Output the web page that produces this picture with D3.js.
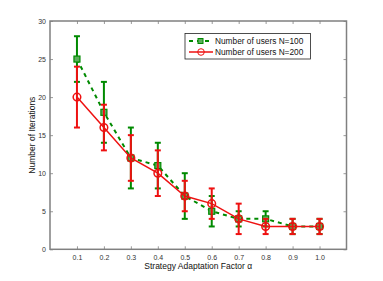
<!DOCTYPE html>
<html>
<head>
<meta charset="utf-8">
<script src="https://cdn.jsdelivr.net/npm/d3@7"></script>
<style>
  body { margin: 0; background: #fff; }
  text { font-family: "Liberation Sans", Arial, sans-serif; }
</style>
</head>
<body>
<div id="chart"></div>
<script>
// data
const alphas = [0.1, 0.2, 0.3, 0.4, 0.5, 0.6, 0.7, 0.8, 0.9, 1.0];
const n100 = [25, 18, 12, 11, 7, 5, 4, 4, 3, 3];
const n100Lo = [22, 14, 8, 8, 4, 3, 3, 3, 2, 2];
const n100Hi = [28, 22, 16, 14, 10, 7, 5, 5, 4, 4];
const n200 = [20, 16, 12, 10, 7, 6, 4, 3, 3, 3];
const n200Lo = [16, 13, 9, 7, 5, 4, 2, 2, 2, 2];
const n200Hi = [24, 19, 15, 13, 9, 8, 6, 4, 4, 4];
const yTicks = [0, 5, 10, 15, 20, 25, 30];
const seriesNames = ['Number of users N=100', 'Number of users N=200'];

const width = 383, height = 281;
const m = {left: 50, right: 36.5, top: 21, bottom: 31.7};

const svg = d3.select('#chart').append('svg').attr('width', width).attr('height', height);

const x = d3.scaleLinear().domain([0, 1.1]).range([m.left, width - m.right]);
const y = d3.scaleLinear().domain([0, 30]).range([height - m.bottom, m.top]);

const gray = '#808080';

// axes box
svg.append('rect')
    .attr('x', x(0)).attr('y', y(30))
    .attr('width', x(1.1) - x(0)).attr('height', y(0) - y(30))
    .attr('fill', 'none').attr('stroke', gray).attr('stroke-width', 1.5);

const xAxis = svg.append('g').attr('transform', `translate(0,${y(0)})`)
    .call(d3.axisBottom(x).tickValues(alphas).tickSize(-3).tickPadding(6).tickFormat(d3.format('.1f')));
const xAxisTop = svg.append('g').attr('transform', `translate(0,${y(30)})`)
    .call(d3.axisTop(x).tickValues(alphas).tickSize(-3).tickFormat(''));
const yAxis = svg.append('g').attr('transform', `translate(${x(0)},0)`)
    .call(d3.axisLeft(y).tickValues(yTicks).tickSize(-3).tickPadding(4));
const yAxisRight = svg.append('g').attr('transform', `translate(${x(1.1)},0)`)
    .call(d3.axisRight(y).tickValues(yTicks).tickSize(-3).tickFormat(''));

[xAxis, xAxisTop, yAxis, yAxisRight].forEach(a => {
    a.select('.domain').remove();
    a.selectAll('line').attr('stroke', gray).attr('stroke-width', 0.8);
    a.selectAll('text').attr('font-size', 7).attr('fill', '#333')
        .style('font-family', '"Liberation Sans", Arial, sans-serif');
});

// axis labels
svg.append('text')
    .attr('x', (x(0) + x(1.1)) / 2).attr('y', 269)
    .attr('text-anchor', 'middle').attr('font-size', 8.5).attr('fill', '#111')
    .text('Strategy Adaptation Factor α');
svg.append('text')
    .attr('transform', `translate(35,${(y(0) + y(30)) / 2}) rotate(-90)`)
    .attr('text-anchor', 'middle').attr('font-size', 8.5).attr('fill', '#111')
    .text('Number of Iterations');

const green = '#008a00', red = '#ee1111';

function errorBars(vals, lo, hi, color) {
    const g = svg.append('g').attr('stroke', color).attr('stroke-width', 2);
    alphas.forEach((a, i) => {
        g.append('line').attr('x1', x(a)).attr('x2', x(a)).attr('y1', y(lo[i])).attr('y2', y(hi[i]));
        g.append('line').attr('x1', x(a) - 3).attr('x2', x(a) + 3).attr('y1', y(lo[i])).attr('y2', y(lo[i]));
        g.append('line').attr('x1', x(a) - 3).attr('x2', x(a) + 3).attr('y1', y(hi[i])).attr('y2', y(hi[i]));
    });
}

const line = d3.line().x((d, i) => x(alphas[i])).y(d => y(d));

// N=100
errorBars(n100, n100Lo, n100Hi, green);
svg.append('path').datum(n100).attr('d', line)
    .attr('fill', 'none').attr('stroke', green).attr('stroke-width', 2).attr('stroke-dasharray', '4,4');
svg.selectAll('.sq').data(n100).enter().append('rect').attr('class', 'sq')
    .attr('x', (d, i) => x(alphas[i]) - 3).attr('y', d => y(d) - 3)
    .attr('width', 6).attr('height', 6)
    .attr('fill', '#5cae5c').attr('stroke', green).attr('stroke-width', 1.2);

// N=200
errorBars(n200, n200Lo, n200Hi, red);
svg.append('path').datum(n200).attr('d', line)
    .attr('fill', 'none').attr('stroke', red).attr('stroke-width', 1.5);
svg.selectAll('.ci').data(n200).enter().append('circle').attr('class', 'ci')
    .attr('cx', (d, i) => x(alphas[i])).attr('cy', d => y(d)).attr('r', 3.8)
    .attr('fill', 'none').attr('stroke', red).attr('stroke-width', 1.5);

// legend
const lg = svg.append('g').attr('transform', 'translate(185,33.5)');
lg.append('rect').attr('width', 125.5).attr('height', 25.5)
    .attr('fill', '#fff').attr('stroke', '#222').attr('stroke-width', 0.8);
const rows = [
    {name: seriesNames[0], color: green, dash: '4,4', w: 2},
    {name: seriesNames[1], color: red, dash: null, w: 1.5}
];
rows.forEach((r, i) => {
    const yy = 7.5 + i * 11;
    lg.append('line').attr('x1', 4).attr('x2', 28).attr('y1', yy).attr('y2', yy)
        .attr('stroke', r.color).attr('stroke-width', r.w).attr('stroke-dasharray', r.dash);
    if (i === 0) {
        lg.append('rect').attr('x', 13).attr('y', yy - 2.5).attr('width', 5).attr('height', 5)
            .attr('fill', '#5cae5c').attr('stroke', green).attr('stroke-width', 1);
    } else {
        lg.append('circle').attr('cx', 16).attr('cy', yy).attr('r', 3.3)
            .attr('fill', 'none').attr('stroke', r.color).attr('stroke-width', 1);
    }
    lg.append('text').attr('x', 30).attr('y', yy + 3).attr('font-size', 8.3).attr('fill', '#111')
        .text(r.name);
});
</script>
</body>
</html>
